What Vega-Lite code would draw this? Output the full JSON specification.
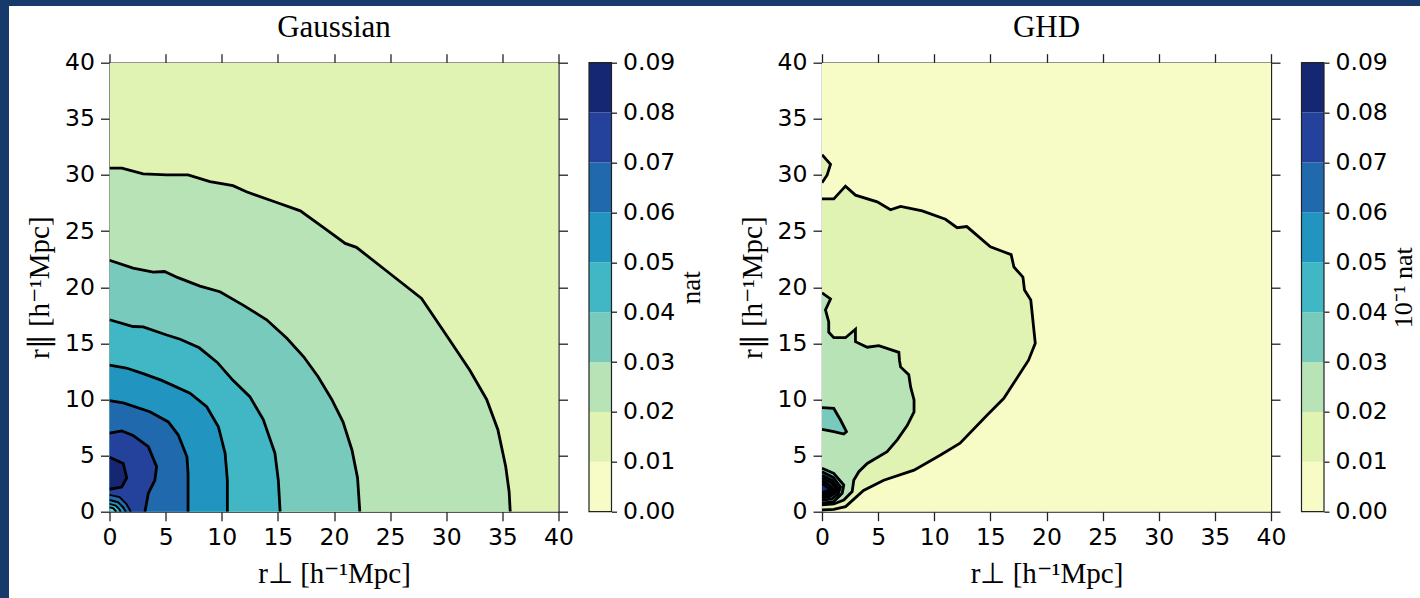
{
"$schema": "https://vega.github.io/schema/vega-lite/v6.json",
"padding": 0,
"background": "white",
"config": {
  "view": {"stroke": null},
  "axis": {"domainColor": "#222", "domainWidth": 1.3, "tickColor": "#222", "tickWidth": 1.3, "tickSize": 9,
           "labelFont": "DejaVu Sans", "labelFontSize": 23.5, "labelColor": "#000", "labelFlush": false, "labelOverlap": false,
           "titleFont": "Liberation Serif", "titleFontSize": 29, "titleFontWeight": "normal", "titleColor": "#000",
           "zindex": 1, "grid": false, "gridColor": "#000", "gridOpacity": 0.06, "gridWidth": 1},
  "title": {"font": "Liberation Serif", "fontSize": 31, "fontWeight": "normal", "color": "#000", "frame": "group", "offset": 7}
},
"datasets": {
  "cb": [
    {"lo":0,"hi":0.01,"band":"b0"},{"lo":0.01,"hi":0.02,"band":"b1"},{"lo":0.02,"hi":0.03,"band":"b2"},
    {"lo":0.03,"hi":0.04,"band":"b3"},{"lo":0.04,"hi":0.05,"band":"b4"},{"lo":0.05,"hi":0.06,"band":"b5"},
    {"lo":0.06,"hi":0.07,"band":"b6"},{"lo":0.07,"hi":0.08,"band":"b7"},{"lo":0.08,"hi":0.09,"band":"b8"}
  ],
  "cbo": [{"lo":0,"hi":0.09}],
  "gR": [
    {"c":"g0","lvl":"b1","i":0,"x":0,"y":0,"e":1},{"c":"g0","lvl":"b1","i":1,"x":0,"y":40,"e":1},{"c":"g0","lvl":"b1","i":2,"x":40,"y":40,"e":1},{"c":"g0","lvl":"b1","i":3,"x":40,"y":0,"e":1},
    {"c":"g1","lvl":"b2","i":0,"x":0,"y":0,"e":1},{"c":"g1","lvl":"b2","i":1,"x":0,"y":30.6,"e":0},{"c":"g1","lvl":"b2","i":2,"x":1.1,"y":30.6,"e":0},{"c":"g1","lvl":"b2","i":3,"x":3.0,"y":30.1,"e":0},{"c":"g1","lvl":"b2","i":4,"x":5.1,"y":30.0,"e":0},{"c":"g1","lvl":"b2","i":5,"x":7.0,"y":30.0,"e":0},{"c":"g1","lvl":"b2","i":6,"x":8.95,"y":29.4,"e":0},{"c":"g1","lvl":"b2","i":7,"x":11.0,"y":29.05,"e":0},{"c":"g1","lvl":"b2","i":8,"x":12.2,"y":28.5,"e":0},{"c":"g1","lvl":"b2","i":9,"x":14.9,"y":27.55,"e":0},{"c":"g1","lvl":"b2","i":10,"x":17.0,"y":26.8,"e":0},{"c":"g1","lvl":"b2","i":11,"x":19.35,"y":25.1,"e":0},{"c":"g1","lvl":"b2","i":12,"x":21.0,"y":23.9,"e":0},{"c":"g1","lvl":"b2","i":13,"x":22.0,"y":23.55,"e":0},{"c":"g1","lvl":"b2","i":14,"x":25.0,"y":21.2,"e":0},{"c":"g1","lvl":"b2","i":15,"x":27.8,"y":19.0,"e":0},{"c":"g1","lvl":"b2","i":16,"x":30.3,"y":15.3,"e":0},{"c":"g1","lvl":"b2","i":17,"x":32.1,"y":12.6,"e":0},{"c":"g1","lvl":"b2","i":18,"x":33.6,"y":10.0,"e":0},{"c":"g1","lvl":"b2","i":19,"x":34.6,"y":7.3,"e":0},{"c":"g1","lvl":"b2","i":20,"x":35.3,"y":4.0,"e":0},{"c":"g1","lvl":"b2","i":21,"x":35.6,"y":1.8,"e":0},{"c":"g1","lvl":"b2","i":22,"x":35.7,"y":0,"e":0},
    {"c":"g2","lvl":"b3","i":0,"x":0,"y":0,"e":1},{"c":"g2","lvl":"b3","i":1,"x":0,"y":22.4,"e":0},{"c":"g2","lvl":"b3","i":2,"x":2.1,"y":21.7,"e":0},{"c":"g2","lvl":"b3","i":3,"x":3.9,"y":21.35,"e":0},{"c":"g2","lvl":"b3","i":4,"x":4.9,"y":21.4,"e":0},{"c":"g2","lvl":"b3","i":5,"x":6.1,"y":20.85,"e":0},{"c":"g2","lvl":"b3","i":6,"x":8.06,"y":20.1,"e":0},{"c":"g2","lvl":"b3","i":7,"x":9.84,"y":19.6,"e":0},{"c":"g2","lvl":"b3","i":8,"x":11.9,"y":18.4,"e":0},{"c":"g2","lvl":"b3","i":9,"x":14.0,"y":17.1,"e":0},{"c":"g2","lvl":"b3","i":10,"x":15.8,"y":15.45,"e":0},{"c":"g2","lvl":"b3","i":11,"x":17.3,"y":13.8,"e":0},{"c":"g2","lvl":"b3","i":12,"x":18.6,"y":12.0,"e":0},{"c":"g2","lvl":"b3","i":13,"x":19.8,"y":10.0,"e":0},{"c":"g2","lvl":"b3","i":14,"x":20.8,"y":8.0,"e":0},{"c":"g2","lvl":"b3","i":15,"x":21.6,"y":5.5,"e":0},{"c":"g2","lvl":"b3","i":16,"x":22.1,"y":3.0,"e":0},{"c":"g2","lvl":"b3","i":17,"x":22.3,"y":0,"e":0},
    {"c":"g3","lvl":"b4","i":0,"x":0,"y":0,"e":1},{"c":"g3","lvl":"b4","i":1,"x":0,"y":17.1,"e":0},{"c":"g3","lvl":"b4","i":2,"x":2.1,"y":16.5,"e":0},{"c":"g3","lvl":"b4","i":3,"x":3.0,"y":16.46,"e":0},{"c":"g3","lvl":"b4","i":4,"x":5.1,"y":15.74,"e":0},{"c":"g3","lvl":"b4","i":5,"x":6.3,"y":15.36,"e":0},{"c":"g3","lvl":"b4","i":6,"x":8.0,"y":14.6,"e":0},{"c":"g3","lvl":"b4","i":7,"x":9.6,"y":13.3,"e":0},{"c":"g3","lvl":"b4","i":8,"x":11.0,"y":11.7,"e":0},{"c":"g3","lvl":"b4","i":9,"x":12.5,"y":10.25,"e":0},{"c":"g3","lvl":"b4","i":10,"x":13.7,"y":8.2,"e":0},{"c":"g3","lvl":"b4","i":11,"x":14.74,"y":5.2,"e":0},{"c":"g3","lvl":"b4","i":12,"x":15.04,"y":2.8,"e":0},{"c":"g3","lvl":"b4","i":13,"x":15.2,"y":0,"e":0},
    {"c":"g4","lvl":"b5","i":0,"x":0,"y":0,"e":1},{"c":"g4","lvl":"b5","i":1,"x":0,"y":13.05,"e":0},{"c":"g4","lvl":"b5","i":2,"x":1.5,"y":12.8,"e":0},{"c":"g4","lvl":"b5","i":3,"x":3.0,"y":12.3,"e":0},{"c":"g4","lvl":"b5","i":4,"x":4.65,"y":11.7,"e":0},{"c":"g4","lvl":"b5","i":5,"x":7.17,"y":10.55,"e":0},{"c":"g4","lvl":"b5","i":6,"x":8.66,"y":9.35,"e":0},{"c":"g4","lvl":"b5","i":7,"x":9.7,"y":7.57,"e":0},{"c":"g4","lvl":"b5","i":8,"x":10.3,"y":5.2,"e":0},{"c":"g4","lvl":"b5","i":9,"x":10.5,"y":2.8,"e":0},{"c":"g4","lvl":"b5","i":10,"x":10.5,"y":0,"e":0},
    {"c":"g5","lvl":"b6","i":0,"x":0,"y":0,"e":1},{"c":"g5","lvl":"b6","i":1,"x":0,"y":9.9,"e":0},{"c":"g5","lvl":"b6","i":2,"x":1.23,"y":9.7,"e":0},{"c":"g5","lvl":"b6","i":3,"x":3.6,"y":8.9,"e":0},{"c":"g5","lvl":"b6","i":4,"x":5.24,"y":8.0,"e":0},{"c":"g5","lvl":"b6","i":5,"x":6.13,"y":6.83,"e":0},{"c":"g5","lvl":"b6","i":6,"x":6.9,"y":4.9,"e":0},{"c":"g5","lvl":"b6","i":7,"x":7.0,"y":3.4,"e":0},{"c":"g5","lvl":"b6","i":8,"x":7.0,"y":0,"e":0},
    {"c":"g6","lvl":"b7","i":0,"x":0,"y":0,"e":1},{"c":"g6","lvl":"b7","i":1,"x":0,"y":7.0,"e":0},{"c":"g6","lvl":"b7","i":2,"x":1.1,"y":7.2,"e":0},{"c":"g6","lvl":"b7","i":3,"x":2.1,"y":6.8,"e":0},{"c":"g6","lvl":"b7","i":4,"x":3.46,"y":5.8,"e":0},{"c":"g6","lvl":"b7","i":5,"x":4.2,"y":4.0,"e":0},{"c":"g6","lvl":"b7","i":6,"x":4.04,"y":2.8,"e":0},{"c":"g6","lvl":"b7","i":7,"x":3.46,"y":1.64,"e":0},{"c":"g6","lvl":"b7","i":8,"x":3.16,"y":0,"e":0},
    {"c":"g7","lvl":"b8","i":0,"x":0,"y":4.85,"e":0},{"c":"g7","lvl":"b8","i":1,"x":1.23,"y":4.3,"e":0},{"c":"g7","lvl":"b8","i":2,"x":1.53,"y":3.0,"e":0},{"c":"g7","lvl":"b8","i":3,"x":1.09,"y":2.2,"e":0},{"c":"g7","lvl":"b8","i":4,"x":0,"y":2.0,"e":0}
  ],
  "gO": [
    {"c":"r1","lvl":"b6","i":0,"x":0,"y":1.5,"e":0},{"c":"r1","lvl":"b6","i":1,"x":0.9,"y":1.3,"e":0},{"c":"r1","lvl":"b6","i":2,"x":1.5,"y":0.7,"e":0},{"c":"r1","lvl":"b6","i":3,"x":1.9,"y":0,"e":0},{"c":"r1","lvl":"b6","i":4,"x":1.45,"y":0,"e":1},{"c":"r1","lvl":"b6","i":5,"x":1.2,"y":0.4,"e":1},{"c":"r1","lvl":"b6","i":6,"x":0.75,"y":0.85,"e":1},{"c":"r1","lvl":"b6","i":7,"x":0,"y":1.05,"e":1},
    {"c":"r2","lvl":"b5","i":0,"x":0,"y":1.05,"e":0},{"c":"r2","lvl":"b5","i":1,"x":0.75,"y":0.85,"e":0},{"c":"r2","lvl":"b5","i":2,"x":1.2,"y":0.4,"e":0},{"c":"r2","lvl":"b5","i":3,"x":1.45,"y":0,"e":0},{"c":"r2","lvl":"b5","i":4,"x":1.0,"y":0,"e":1},{"c":"r2","lvl":"b5","i":5,"x":0.85,"y":0.25,"e":1},{"c":"r2","lvl":"b5","i":6,"x":0.55,"y":0.55,"e":1},{"c":"r2","lvl":"b5","i":7,"x":0,"y":0.7,"e":1},
    {"c":"r3","lvl":"b4","i":0,"x":0,"y":0.7,"e":0},{"c":"r3","lvl":"b4","i":1,"x":0.55,"y":0.55,"e":0},{"c":"r3","lvl":"b4","i":2,"x":0.85,"y":0.25,"e":0},{"c":"r3","lvl":"b4","i":3,"x":1.0,"y":0,"e":0},{"c":"r3","lvl":"b4","i":4,"x":0.6,"y":0,"e":1},{"c":"r3","lvl":"b4","i":5,"x":0.35,"y":0.3,"e":1},{"c":"r3","lvl":"b4","i":6,"x":0,"y":0.4,"e":1},
    {"c":"r4","lvl":"b3","i":0,"x":0,"y":0.4,"e":0},{"c":"r4","lvl":"b3","i":1,"x":0.35,"y":0.3,"e":0},{"c":"r4","lvl":"b3","i":2,"x":0.6,"y":0,"e":0},{"c":"r4","lvl":"b3","i":3,"x":0,"y":0,"e":1}
  ],
  "hR": [
    {"c":"h00","lvl":"b0","i":0,"x":0,"y":0,"e":1},{"c":"h00","lvl":"b0","i":1,"x":0,"y":40,"e":1},{"c":"h00","lvl":"b0","i":2,"x":40,"y":40,"e":1},{"c":"h00","lvl":"b0","i":3,"x":40,"y":0,"e":1},
    {"c":"h01","lvl":"b1","i":0,"x":0,"y":27.86,"e":0},{"c":"h01","lvl":"b1","i":1,"x":1.05,"y":27.86,"e":0},{"c":"h01","lvl":"b1","i":2,"x":2.09,"y":29.0,"e":0},{"c":"h01","lvl":"b1","i":3,"x":2.98,"y":28.2,"e":0},{"c":"h01","lvl":"b1","i":4,"x":4.92,"y":27.6,"e":0},{"c":"h01","lvl":"b1","i":5,"x":6.1,"y":26.9,"e":0},{"c":"h01","lvl":"b1","i":6,"x":7.0,"y":27.2,"e":0},{"c":"h01","lvl":"b1","i":7,"x":8.93,"y":26.8,"e":0},{"c":"h01","lvl":"b1","i":8,"x":11.0,"y":26.05,"e":0},{"c":"h01","lvl":"b1","i":9,"x":12.04,"y":25.3,"e":0},{"c":"h01","lvl":"b1","i":10,"x":12.9,"y":25.4,"e":0},{"c":"h01","lvl":"b1","i":11,"x":15.0,"y":23.6,"e":0},{"c":"h01","lvl":"b1","i":12,"x":16.05,"y":23.2,"e":0},{"c":"h01","lvl":"b1","i":13,"x":16.85,"y":22.9,"e":0},{"c":"h01","lvl":"b1","i":14,"x":17.1,"y":21.8,"e":0},{"c":"h01","lvl":"b1","i":15,"x":17.9,"y":20.9,"e":0},{"c":"h01","lvl":"b1","i":16,"x":18.04,"y":19.75,"e":0},{"c":"h01","lvl":"b1","i":17,"x":18.6,"y":18.86,"e":0},{"c":"h01","lvl":"b1","i":18,"x":19.0,"y":15.0,"e":0},{"c":"h01","lvl":"b1","i":19,"x":18.4,"y":13.5,"e":0},{"c":"h01","lvl":"b1","i":20,"x":17.3,"y":11.8,"e":0},{"c":"h01","lvl":"b1","i":21,"x":16.2,"y":10.1,"e":0},{"c":"h01","lvl":"b1","i":22,"x":14.7,"y":8.6,"e":0},{"c":"h01","lvl":"b1","i":23,"x":12.3,"y":6.1,"e":0},{"c":"h01","lvl":"b1","i":24,"x":10.56,"y":5.05,"e":0},{"c":"h01","lvl":"b1","i":25,"x":8.2,"y":3.7,"e":0},{"c":"h01","lvl":"b1","i":26,"x":5.5,"y":2.8,"e":0},{"c":"h01","lvl":"b1","i":27,"x":3.7,"y":1.9,"e":0},{"c":"h01","lvl":"b1","i":28,"x":2.1,"y":0.45,"e":0},{"c":"h01","lvl":"b1","i":29,"x":1.05,"y":0.2,"e":0},{"c":"h01","lvl":"b1","i":30,"x":0,"y":0.15,"e":0},
    {"c":"h02","lvl":"b1","i":0,"x":0,"y":31.8,"e":0},{"c":"h02","lvl":"b1","i":1,"x":0.76,"y":30.95,"e":0},{"c":"h02","lvl":"b1","i":2,"x":0.46,"y":30.0,"e":0},{"c":"h02","lvl":"b1","i":3,"x":0,"y":29.3,"e":0},
    {"c":"h03","lvl":"b2","i":0,"x":0,"y":19.5,"e":0},{"c":"h03","lvl":"b2","i":1,"x":0.76,"y":18.95,"e":0},{"c":"h03","lvl":"b2","i":2,"x":0.31,"y":17.97,"e":0},{"c":"h03","lvl":"b2","i":3,"x":0.6,"y":16.9,"e":0},{"c":"h03","lvl":"b2","i":4,"x":0.6,"y":16.0,"e":0},{"c":"h03","lvl":"b2","i":5,"x":1.05,"y":15.5,"e":0},{"c":"h03","lvl":"b2","i":6,"x":2.09,"y":15.5,"e":0},{"c":"h03","lvl":"b2","i":7,"x":2.98,"y":16.25,"e":0},{"c":"h03","lvl":"b2","i":8,"x":2.98,"y":15.15,"e":0},{"c":"h03","lvl":"b2","i":9,"x":4.03,"y":14.65,"e":0},{"c":"h03","lvl":"b2","i":10,"x":5.06,"y":14.8,"e":0},{"c":"h03","lvl":"b2","i":11,"x":6.85,"y":14.2,"e":0},{"c":"h03","lvl":"b2","i":12,"x":6.9,"y":13.5,"e":0},{"c":"h03","lvl":"b2","i":13,"x":7.0,"y":12.9,"e":0},{"c":"h03","lvl":"b2","i":14,"x":7.73,"y":12.2,"e":0},{"c":"h03","lvl":"b2","i":15,"x":7.9,"y":11.1,"e":0},{"c":"h03","lvl":"b2","i":16,"x":8.2,"y":9.95,"e":0},{"c":"h03","lvl":"b2","i":17,"x":8.2,"y":8.9,"e":0},{"c":"h03","lvl":"b2","i":18,"x":7.6,"y":7.7,"e":0},{"c":"h03","lvl":"b2","i":19,"x":6.7,"y":6.4,"e":0},{"c":"h03","lvl":"b2","i":20,"x":5.8,"y":5.35,"e":0},{"c":"h03","lvl":"b2","i":21,"x":4.03,"y":4.3,"e":0},{"c":"h03","lvl":"b2","i":22,"x":3.28,"y":3.56,"e":0},{"c":"h03","lvl":"b2","i":23,"x":2.83,"y":2.8,"e":0},{"c":"h03","lvl":"b2","i":24,"x":2.69,"y":1.8,"e":0},{"c":"h03","lvl":"b2","i":25,"x":1.94,"y":1.04,"e":0},{"c":"h03","lvl":"b2","i":26,"x":1.05,"y":0.69,"e":0},{"c":"h03","lvl":"b2","i":27,"x":0,"y":0.6,"e":0},
    {"c":"h04","lvl":"b3","i":0,"x":0,"y":9.27,"e":0},{"c":"h04","lvl":"b3","i":1,"x":1.05,"y":9.2,"e":0},{"c":"h04","lvl":"b3","i":2,"x":1.65,"y":8.17,"e":0},{"c":"h04","lvl":"b3","i":3,"x":2.18,"y":7.13,"e":0},{"c":"h04","lvl":"b3","i":4,"x":1.94,"y":6.92,"e":0},{"c":"h04","lvl":"b3","i":5,"x":1.05,"y":7.13,"e":0},{"c":"h04","lvl":"b3","i":6,"x":0,"y":7.34,"e":0},
    {"c":"h05","lvl":"b3","i":0,"x":0,"y":3.87,"e":0},{"c":"h05","lvl":"b3","i":1,"x":1.05,"y":3.42,"e":0},{"c":"h05","lvl":"b3","i":2,"x":1.94,"y":2.38,"e":0},{"c":"h05","lvl":"b3","i":3,"x":1.8,"y":1.64,"e":0},{"c":"h05","lvl":"b3","i":4,"x":1.05,"y":0.9,"e":0},{"c":"h05","lvl":"b3","i":5,"x":0,"y":0.75,"e":0},
    {"c":"h06","lvl":"b4","i":0,"x":0,"y":3.55,"e":0},{"c":"h06","lvl":"b4","i":1,"x":1.0,"y":3.05,"e":0},{"c":"h06","lvl":"b4","i":2,"x":1.65,"y":2.2,"e":0},{"c":"h06","lvl":"b4","i":3,"x":1.45,"y":1.6,"e":0},{"c":"h06","lvl":"b4","i":4,"x":0.9,"y":1.15,"e":0},{"c":"h06","lvl":"b4","i":5,"x":0,"y":1.0,"e":0},
    {"c":"h07","lvl":"b5","i":0,"x":0,"y":3.25,"e":0},{"c":"h07","lvl":"b5","i":1,"x":0.9,"y":2.8,"e":0},{"c":"h07","lvl":"b5","i":2,"x":1.45,"y":2.1,"e":0},{"c":"h07","lvl":"b5","i":3,"x":1.25,"y":1.7,"e":0},{"c":"h07","lvl":"b5","i":4,"x":0.7,"y":1.35,"e":0},{"c":"h07","lvl":"b5","i":5,"x":0,"y":1.2,"e":0},
    {"c":"h08","lvl":"b6","i":0,"x":0,"y":3.0,"e":0},{"c":"h08","lvl":"b6","i":1,"x":0.8,"y":2.6,"e":0},{"c":"h08","lvl":"b6","i":2,"x":1.25,"y":2.05,"e":0},{"c":"h08","lvl":"b6","i":3,"x":1.05,"y":1.75,"e":0},{"c":"h08","lvl":"b6","i":4,"x":0.55,"y":1.5,"e":0},{"c":"h08","lvl":"b6","i":5,"x":0,"y":1.35,"e":0},
    {"c":"h09","lvl":"b7","i":0,"x":0,"y":2.75,"e":0},{"c":"h09","lvl":"b7","i":1,"x":0.6,"y":2.4,"e":0},{"c":"h09","lvl":"b7","i":2,"x":1.0,"y":2.0,"e":0},{"c":"h09","lvl":"b7","i":3,"x":0.8,"y":1.8,"e":0},{"c":"h09","lvl":"b7","i":4,"x":0.4,"y":1.6,"e":0},{"c":"h09","lvl":"b7","i":5,"x":0,"y":1.5,"e":0},
    {"c":"h10","lvl":"b8","i":0,"x":0,"y":2.5,"e":0},{"c":"h10","lvl":"b8","i":1,"x":0.4,"y":2.25,"e":0},{"c":"h10","lvl":"b8","i":2,"x":0.7,"y":2.0,"e":0},{"c":"h10","lvl":"b8","i":3,"x":0.5,"y":1.85,"e":0},{"c":"h10","lvl":"b8","i":4,"x":0,"y":1.7,"e":0}
  ]
},
"spacing": 0,
"bounds": "flush",
"hconcat": [
  {"width": 9, "height": 598, "data": {"values": [{}]}, "mark": {"type": "rect", "color": "#163a6b"}, "view": {"fill": "#163a6b", "stroke": null}},
  {"spacing": 56.7, "bounds": "flush", "vconcat": [
    {"width": 1411, "height": 6, "data": {"values": [{}]}, "mark": {"type": "rect", "color": "#163a6b"}, "view": {"fill": "#163a6b", "stroke": null}},
    {"spacing": 30.5, "bounds": "flush", "hconcat": [
      {"width": 70, "height": 449, "data": {"values": []}, "mark": "rect"},
      {"width": 449, "height": 449,
       "title": {"text": "Gaussian"},
       "layer": [
         {"data": {"name": "gR"}, "mark": {"type": "line", "strokeWidth": 0, "clip": true},
          "encoding": {
            "x": {"field": "x", "type": "quantitative", "scale": {"domain": [0, 40], "nice": false, "zero": false},
                  "axis": {"orient": "bottom", "values": [0,5,10,15,20,25,30,35,40], "title": "r⊥ [h⁻¹Mpc]", "grid": true, "labelPadding": 5, "titlePadding": 10}},
            "y": {"field": "y", "type": "quantitative", "scale": {"domain": [0, 40], "nice": false, "zero": false},
                  "axis": {"orient": "left", "values": [0,5,10,15,20,25,30,35,40], "title": "r∥ [h⁻¹Mpc]", "grid": true, "labelPadding": 6, "titlePadding": 10}},
            "fill": {"field": "lvl", "type": "nominal", "legend": null,
                     "scale": {"domain": ["b0","b1","b2","b3","b4","b5","b6","b7","b8"], "range": ["#f7fcc7","#e0f3b2","#b7e3b6","#78cabc","#41b6c4","#2195c0","#2169ad","#24429b","#152773"]}},
            "detail": {"field": "c"},
            "order": {"field": "i", "type": "quantitative"}
          }},
         {"data": {"name": "gO"}, "mark": {"type": "line", "strokeWidth": 0, "clip": true},
          "encoding": {
            "x": {"field": "x", "type": "quantitative", "axis": null},
            "y": {"field": "y", "type": "quantitative", "axis": null},
            "fill": {"field": "lvl", "type": "nominal", "legend": null},
            "detail": {"field": "c"},
            "order": {"field": "i", "type": "quantitative"}
          }},
         {"data": {"name": "gR"}, "transform": [{"filter": "datum.e == 0"}],
          "mark": {"type": "line", "color": "#000", "strokeWidth": 2.8, "clip": true},
          "encoding": {
            "x": {"field": "x", "type": "quantitative", "axis": {"orient": "top", "values": [0,5,10,15,20,25,30,35,40], "labels": false, "title": null}},
            "y": {"field": "y", "type": "quantitative", "axis": {"orient": "right", "values": [0,5,10,15,20,25,30,35,40], "labels": false, "title": null}},
            "detail": {"field": "c"},
            "order": {"field": "i", "type": "quantitative"}
          }},
         {"data": {"name": "gO"}, "transform": [{"filter": "datum.e == 0"}],
          "mark": {"type": "line", "color": "#000", "strokeWidth": 2.0, "clip": true},
          "encoding": {
            "x": {"field": "x", "type": "quantitative", "axis": null},
            "y": {"field": "y", "type": "quantitative", "axis": null},
            "detail": {"field": "c"},
            "order": {"field": "i", "type": "quantitative"}
          }}
       ],
       "resolve": {"axis": {"x": "independent", "y": "independent"}}
      },
      {"width": 22.5, "height": 449,
       "layer": [
         {"data": {"name": "cb"}, "mark": {"type": "rect"},
          "encoding": {
            "y": {"field": "lo", "type": "quantitative", "scale": {"domain": [0, 0.09], "nice": false, "zero": false},
                  "axis": {"orient": "right", "values": [0,0.01,0.02,0.03,0.04,0.05,0.06,0.07,0.08,0.09], "format": ".2f", "tickSize": 5, "domain": false, "labelPadding": 6, "title": "nat", "titleAngle": 270, "titleBaseline": "top", "titlePadding": 4, "titleFontSize": 27}},
            "y2": {"field": "hi"},
            "fill": {"field": "band", "type": "nominal", "legend": null,
                     "scale": {"domain": ["b0","b1","b2","b3","b4","b5","b6","b7","b8"], "range": ["#f7fcc7","#e0f3b2","#b7e3b6","#78cabc","#41b6c4","#2195c0","#2169ad","#24429b","#152773"]}}
          }},
         {"data": {"name": "cbo"}, "mark": {"type": "rect", "fillOpacity": 0, "stroke": "#222", "strokeWidth": 1.2},
          "encoding": {"y": {"field": "lo", "type": "quantitative"}, "y2": {"field": "hi"}}}
       ]
      },
      {"width": 149, "height": 449, "data": {"values": []}, "mark": "rect"},
      {"width": 449, "height": 449,
       "title": {"text": "GHD"},
       "layer": [
         {"data": {"name": "hR"}, "mark": {"type": "line", "strokeWidth": 0, "clip": true},
          "encoding": {
            "x": {"field": "x", "type": "quantitative", "scale": {"domain": [0, 40], "nice": false, "zero": false},
                  "axis": {"orient": "bottom", "values": [0,5,10,15,20,25,30,35,40], "title": "r⊥ [h⁻¹Mpc]", "grid": true, "labelPadding": 5, "titlePadding": 10}},
            "y": {"field": "y", "type": "quantitative", "scale": {"domain": [0, 40], "nice": false, "zero": false},
                  "axis": {"orient": "left", "values": [0,5,10,15,20,25,30,35,40], "title": "r∥ [h⁻¹Mpc]", "grid": true, "labelPadding": 6, "titlePadding": 10}},
            "fill": {"field": "lvl", "type": "nominal", "legend": null,
                     "scale": {"domain": ["b0","b1","b2","b3","b4","b5","b6","b7","b8"], "range": ["#f7fcc7","#e0f3b2","#b7e3b6","#78cabc","#41b6c4","#2195c0","#2169ad","#24429b","#152773"]}},
            "detail": {"field": "c"},
            "order": {"field": "i", "type": "quantitative"}
          }},
         {"data": {"name": "hR"}, "transform": [{"filter": "datum.e == 0"}],
          "mark": {"type": "line", "color": "#000", "strokeWidth": 2.8, "clip": true},
          "encoding": {
            "x": {"field": "x", "type": "quantitative", "axis": {"orient": "top", "values": [0,5,10,15,20,25,30,35,40], "labels": false, "title": null}},
            "y": {"field": "y", "type": "quantitative", "axis": {"orient": "right", "values": [0,5,10,15,20,25,30,35,40], "labels": false, "title": null}},
            "detail": {"field": "c"},
            "order": {"field": "i", "type": "quantitative"}
          }}
       ],
       "resolve": {"axis": {"x": "independent", "y": "independent"}}
      },
      {"width": 22.5, "height": 449,
       "layer": [
         {"data": {"name": "cb"}, "mark": {"type": "rect"},
          "encoding": {
            "y": {"field": "lo", "type": "quantitative", "scale": {"domain": [0, 0.09], "nice": false, "zero": false},
                  "axis": {"orient": "right", "values": [0,0.01,0.02,0.03,0.04,0.05,0.06,0.07,0.08,0.09], "format": ".2f", "tickSize": 5, "domain": false, "labelPadding": 6, "title": "10⁻¹ nat", "titleAngle": 270, "titleBaseline": "top", "titlePadding": 3, "titleFontSize": 26}},
            "y2": {"field": "hi"},
            "fill": {"field": "band", "type": "nominal", "legend": null,
                     "scale": {"domain": ["b0","b1","b2","b3","b4","b5","b6","b7","b8"], "range": ["#f7fcc7","#e0f3b2","#b7e3b6","#78cabc","#41b6c4","#2195c0","#2169ad","#24429b","#152773"]}}
          }},
         {"data": {"name": "cbo"}, "mark": {"type": "rect", "fillOpacity": 0, "stroke": "#222", "strokeWidth": 1.2},
          "encoding": {"y": {"field": "lo", "type": "quantitative"}, "y2": {"field": "hi"}}}
       ]
      }
    ]}
  ]}
]
}
